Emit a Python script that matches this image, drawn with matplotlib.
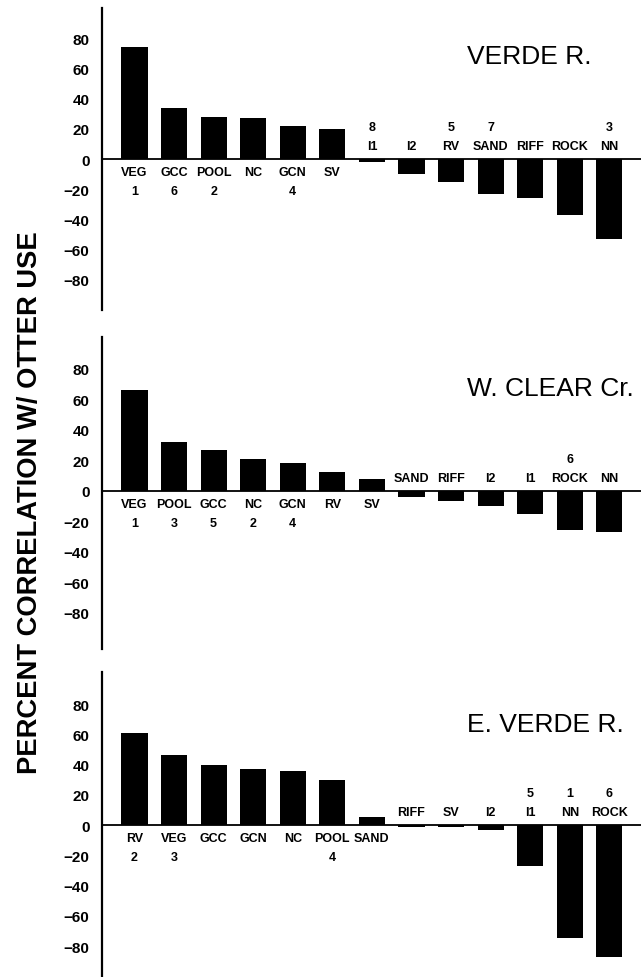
import numpy as np
import matplotlib
matplotlib.use("Agg")
import matplotlib.pyplot as plt

plt.rcParams['font.family'] = ['Liberation Sans', 'DejaVu Sans']

# VERDE R.
verde_cats = ["VEG", "GCC", "POOL", "NC", "GCN", "SV", "I1", "I2", "RV", "SAND", "RIFF", "ROCK", "NN"]
verde_vals = [74, 34, 28, 27, 22, 20, -2, -10, -15, -23, -26, -37, -53]
verde_rank = ["1", "6", "2", "", "4", "", "8", "", "5", "7", "", "", "3"]

# W. CLEAR Cr.
clear_cats = ["VEG", "POOL", "GCC", "NC", "GCN", "RV", "SV", "SAND", "RIFF", "I2", "I1", "ROCK", "NN"]
clear_vals = [66, 32, 27, 21, 18, 12, 8, -4, -7, -10, -15, -26, -27]
clear_rank = ["1", "3", "5", "2", "4", "", "", "", "", "", "", "6", ""]

# E. VERDE R.
everde_cats = ["RV", "VEG", "GCC", "GCN", "NC", "POOL", "SAND", "RIFF", "SV", "I2", "I1", "NN", "ROCK"]
everde_vals = [61, 46, 39.5, 37, 35.5, 29.5, 5.5, -1, -1, -3.5, -27, -75, -87]
everde_rank = ["2", "3", "", "", "", "4", "", "", "", "", "5", "1", "6"]

yticks = [80, 60, 40, 20, 0, -20, -40, -60, -80]

W, H = 642, 978
fig = plt.figure(figsize=(W / 100, H / 100), dpi=100)


def px_axes(top, bottom):
    # axes box given in pixel rows of the figure
    left, right = 102, 641
    return fig.add_axes([left / W, (H - bottom) / H, (right - left) / W, (bottom - top) / H])


def panel(ax, cats, vals, ranks, title, ylim, title_y):
    x = np.arange(len(cats))
    ax.bar(x, vals, width=0.66, color="black")
    ax.axhline(0, color="black", lw=1.3)
    ax.set_xlim(-0.82, 12.8)
    ax.set_ylim(*ylim)
    for s in ["top", "right", "bottom"]:
        ax.spines[s].set_visible(False)
    ax.spines["left"].set_linewidth(1.6)
    ax.set_xticks([])
    ax.set_yticks(yticks)
    ax.set_yticklabels([str(t).replace("-", "\u2212") for t in yticks])
    ax.tick_params(axis="y", length=0, pad=9, labelsize=11)
    for lab in ax.get_yticklabels():
        lab.set_fontweight("bold")
    for xi, c, v, r in zip(x, cats, vals, ranks):
        sgn = -1 if v > 0 else 1
        ax.annotate(c, (xi, 0), xytext=(0, 13 * sgn), textcoords="offset pixels",
                    ha="center", va="center", fontsize=9, fontweight="bold")
        if r:
            ax.annotate(r, (xi, 0), xytext=(0, 32 * sgn), textcoords="offset pixels",
                        ha="center", va="center", fontsize=9, fontweight="bold")
    fig.text(467 / W, (H - title_y) / H, title, ha="left", va="center", fontsize=19)


ax1 = px_axes(9, 311)
panel(ax1, verde_cats, verde_vals, verde_rank, "VERDE R.", (-100, 100), 57)

ax2 = px_axes(338, 650)
panel(ax2, clear_cats, clear_vals, clear_rank, "W. CLEAR Cr.", (-104, 101), 389)

ax3 = px_axes(673, 978)
panel(ax3, everde_cats, everde_vals, everde_rank, "E. VERDE R.", (-100.5, 101.2), 725)

fig.text(30 / W, (H - 503) / H, "PERCENT CORRELATION W/ OTTER USE", rotation=90,
         ha="center", va="center", fontsize=19.7, fontweight="bold")

fig.savefig("out.png", dpi=100)
